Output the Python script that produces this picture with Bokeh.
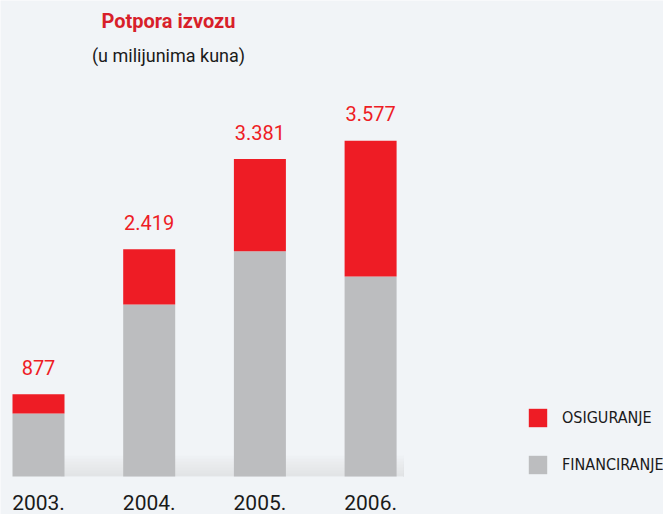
from bokeh.plotting import figure
from bokeh.models import Range1d, ColumnDataSource, Label, Legend, LegendItem, BoxAnnotation
from bokeh.core.properties import value
from bokeh.embed import file_html
from bokeh.resources import INLINE

years = ["2003.", "2004.", "2005.", "2006."]
totals = [877, 2419, 3381, 3577]
financiranje = [670, 1833, 2398, 2131]
osiguranje = [t - f for t, f in zip(totals, financiranje)]
total_labels = ["877", "2.419", "3.381", "3.577"]

RED = "#ee1c25"
GRAY = "#bcbdbf"
BG = "#f1f4f7"

W, H = 663, 514
k = 10.65
p = figure(width=W, height=H, output_backend="svg", toolbar_location=None,
           x_range=Range1d(-38 / 110.7, (W - 38) / 110.7),
           y_range=Range1d(-(H - 476) * k, 476 * k),
           min_border=0, background_fill_color=BG, border_fill_color=BG)
p.axis.visible = False
p.grid.visible = False
p.outline_line_color = None

# floor shadow
for i in range(7):
    p.add_layout(BoxAnnotation(left=0.2, right=3.3,
                               bottom=0, top=(21 - 3 * i) * k,
                               fill_color="#c8ccd0", fill_alpha=0.06,
                               line_color=None, level="underlay"))

xs = list(range(len(years)))
src = ColumnDataSource(dict(x=xs, fin=financiranje, osi=osiguranje, tot=totals,
                            lab=total_labels, yr=years, zero=[0] * 4))
bw = 52 / 110.7
r_fin = p.vbar(x="x", bottom="zero", top="fin", width=bw, source=src,
               fill_color=GRAY, line_color=None)
r_osi = p.vbar(x="x", bottom="fin", top="tot", width=bw, source=src,
               fill_color=RED, line_color=None)

p.text(x="x", y="tot", text="lab", source=src, y_offset=-27,
       text_align="center", text_baseline="alphabetic",
       text_color=RED, text_font=value("Roboto"), text_font_size="20px")
p.text(x="x", y="zero", text="yr", source=src, y_offset=26,
       text_align="center", text_baseline="alphabetic",
       text_color="#1a1a1a", text_font=value("Roboto"), text_font_size="21px")

p.add_layout(Label(x=168, y=H - 20, x_units="screen", y_units="screen",
                   text="Potpora izvozu", text_align="center",
                   text_baseline="alphabetic", text_color="#d81f2a",
                   text_font="Roboto", text_font_style="bold",
                   text_font_size="20px"))
p.add_layout(Label(x=168, y=H - 55, x_units="screen", y_units="screen",
                   text="(u milijunima kuna)", text_align="center",
                   text_baseline="alphabetic", text_color="#1a1a1a",
                   text_font="Roboto", text_font_size="18px"))

legend = Legend(items=[LegendItem(label="OSIGURANJE", renderers=[r_osi]),
                       LegendItem(label="FINANCIRANJE", renderers=[r_fin])],
                location=(526, H - 476), glyph_width=23, glyph_height=23,
                label_height=23, spacing=24, padding=0, margin=0,
                label_standoff=13, border_line_color=None,
                background_fill_alpha=0,
                label_text_font="'Liberation Sans Narrow', 'DejaVu Sans Condensed', Roboto",
                label_text_font_size="16px", label_text_color="#1a1a1a")
p.add_layout(legend)

open("out.html", "w").write(file_html(p, INLINE))
